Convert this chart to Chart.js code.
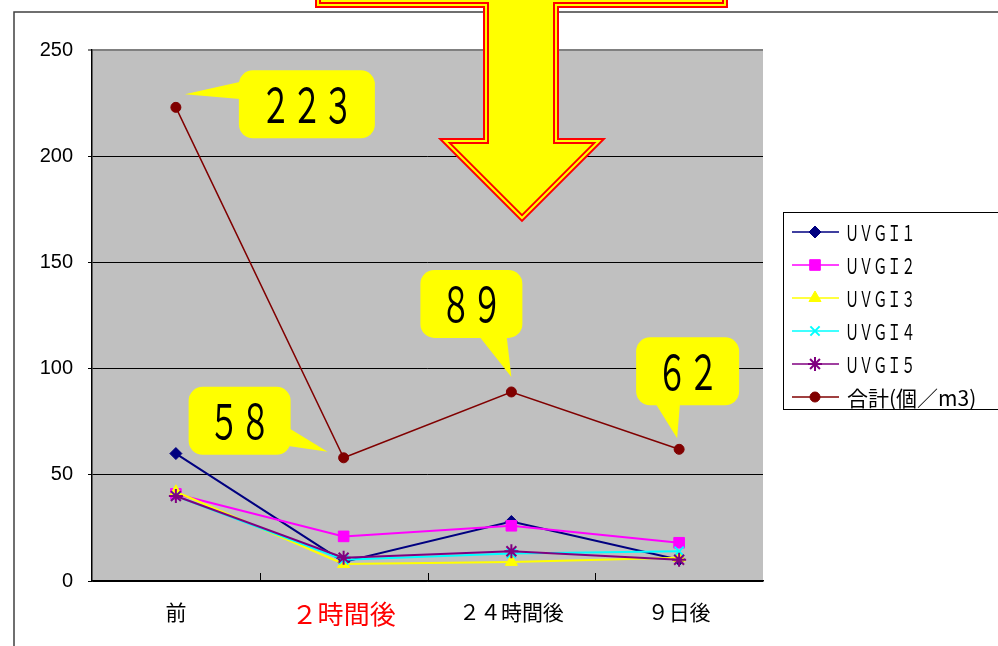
<!DOCTYPE html>
<html lang="ja">
<head>
<meta charset="utf-8">
<title>UVGI</title>
<script src="https://cdn.jsdelivr.net/npm/chart.js@4.4.1/dist/chart.umd.min.js"></script>
<style>
body{margin:0;background:#fff;}
#caja{position:relative;width:998px;height:646px;}
</style>
</head>
<body>
<div id="caja"><canvas id="grafico1"></canvas></div>
<script>
const categorias = ['前','２時間後','２４時間後','９日後'];
const nombres = ['ＵＶＧＩ１','ＵＶＧＩ２','ＵＶＧＩ３','ＵＶＧＩ４','ＵＶＧＩ５','合計(個／m3)'];
const uvgi1 = [60, 9, 28, 10];
const uvgi2 = [41, 21, 26, 18];
const uvgi3 = [42, 8, 9, 11];
const uvgi4 = [40, 10, 13, 14];
const uvgi5 = [40, 11, 14, 10];
const total = [223, 58, 89, 62];
const ticksY = [0, 50, 100, 150, 200, 250];
const globos = ['２２３','５８','８９','６２'];

const FUENTE_JP = '"Noto Sans CJK JP", "Noto Sans", sans-serif';

// forma de cada globo, relativa al punto del total
const formas = [
    {x0:63, x1:199, y0:-37, y1:31, b:[67,-26,67,-8], t:[9,-13]},
    {x0:-155, x1:-53, y0:-71, y1:-3, b:[-57,-31,-57,-12], t:[-16,-6]},
    {x0:-91, x1:11, y0:-122, y1:-54, b:[-34,-58,-5,-58], t:[0,-15]},
    {x0:-43, x1:60, y0:-112, y1:-44, b:[-25,-48,1,-48], t:[-2,-11]},
];

function textoEstrecho(ctx, txt, x, y, sx, align){
    ctx.save();
    ctx.translate(x, y);
    ctx.scale(sx, 1);
    ctx.textAlign = align;
    ctx.fillText(txt, 0, 0);
    ctx.restore();
}

function globo(ctx, px, py, f, txt){
    let x0 = px+f.x0, x1 = px+f.x1, y0 = py+f.y0, y1 = py+f.y1;
    ctx.fillStyle = '#ffff00';
    ctx.beginPath();
    ctx.roundRect(x0, y0, x1-x0, y1-y0, 14);
    ctx.fill();
    ctx.beginPath();
    ctx.moveTo(px+f.b[0], py+f.b[1]);
    ctx.lineTo(px+f.t[0], py+f.t[1]);
    ctx.lineTo(px+f.b[2], py+f.b[3]);
    ctx.closePath();
    ctx.fill();
    ctx.fillStyle = '#000';
    ctx.font = '48px ' + FUENTE_JP;
    ctx.textBaseline = 'middle';
    textoEstrecho(ctx, txt, (x0+x1)/2, (y0+y1)/2, 0.65, 'center');
}

const fondo = {
    id: 'fondo',
    beforeDraw(chart){
        const ctx = chart.ctx, a = chart.chartArea;
        ctx.save();
        ctx.fillStyle = '#fff';
        ctx.fillRect(0, 0, chart.width, chart.height);
        ctx.strokeStyle = '#404040';
        ctx.lineWidth = 1.5;
        ctx.beginPath();
        ctx.moveTo(14, chart.height);
        ctx.lineTo(14, 12);
        ctx.lineTo(chart.width, 12);
        ctx.stroke();
        ctx.fillStyle = '#c0c0c0';
        ctx.fillRect(a.left, a.top, a.right-a.left, a.bottom-a.top);
        ctx.restore();
    },
    afterDraw(chart){
        const ctx = chart.ctx, a = chart.chartArea;
        const xs = chart.scales.x, ys = chart.scales.y;
        ctx.save();
        // marcas del eje x
        ctx.strokeStyle = '#000';
        ctx.lineWidth = 1;
        ctx.beginPath();
        for(let i=0;i<categorias.length-1;i++){
            let x = Math.round((xs.getPixelForValue(i)+xs.getPixelForValue(i+1))/2)+0.5;
            ctx.moveTo(x, a.bottom);
            ctx.lineTo(x, a.bottom-8);
        }
        ctx.stroke();

        // globos
        total.forEach((v, i) => {
            globo(ctx, xs.getPixelForValue(i), ys.getPixelForValue(v), formas[i], globos[i]);
        });

        // leyenda
        ctx.strokeStyle = '#000';
        ctx.lineWidth = 1;
        ctx.strokeRect(783.5, 212.5, 240, 197);
        chart.data.datasets.forEach((ds, i) => {
            let y = 232 + i*33;
            ctx.strokeStyle = ds.borderColor;
            ctx.lineWidth = 1.5;
            ctx.beginPath();
            ctx.moveTo(792, y);
            ctx.lineTo(839, y);
            ctx.stroke();
            ctx.fillStyle = ds.pointBackgroundColor;
            ctx.strokeStyle = ds.pointBorderColor;
            ctx.lineWidth = ds.pointBorderWidth;
            Chart.helpers.drawPoint(ctx, {pointStyle: ds.pointStyle, radius: ds.pointRadius, rotation: 0, borderWidth: ds.pointBorderWidth}, 815, y);
            ctx.fillStyle = '#000';
            ctx.textBaseline = 'middle';
            if(i < 5){
                ctx.font = '22px ' + FUENTE_JP;
                textoEstrecho(ctx, ds.label, 845, y+1, 0.64, 'left');
            }else{
                ctx.font = '21px ' + FUENTE_JP;
                ctx.textAlign = 'left';
                ctx.fillText(ds.label, 847, y+1);
            }
        });

        // flecha
        ctx.beginPath();
        ctx.moveTo(318, -20);
        ctx.lineTo(318, 5);
        ctx.lineTo(486, 5);
        ctx.lineTo(486, 141);
        ctx.lineTo(445, 141);
        ctx.lineTo(522, 218);
        ctx.lineTo(599, 141);
        ctx.lineTo(556, 141);
        ctx.lineTo(556, 5);
        ctx.lineTo(725, 5);
        ctx.lineTo(725, -20);
        ctx.closePath();
        ctx.fillStyle = '#ffff00';
        ctx.fill();
        ctx.lineJoin = 'miter';
        ctx.strokeStyle = '#ff0000';
        ctx.lineWidth = 6;
        ctx.stroke();
        ctx.strokeStyle = '#ffff00';
        ctx.lineWidth = 2;
        ctx.stroke();
        ctx.restore();
    }
};

function serie(nombre, datos, color, estilo, radio, borde, orden){
    return {
        label: nombre,
        data: datos,
        borderColor: color,
        backgroundColor: color,
        borderWidth: 2,
        pointStyle: estilo,
        pointRadius: radio,
        pointBackgroundColor: color,
        pointBorderColor: color,
        pointBorderWidth: borde,
        tension: 0,
        order: orden,
    };
}

let canvasG1 = document.getElementById('grafico1').getContext('2d');
let datos = {
    labels: categorias,
    datasets: [
        serie(nombres[0], uvgi1, '#000080', 'rectRot', 6, 1, 5),
        serie(nombres[1], uvgi2, '#ff00ff', 'rect', 7.5, 1, 4),
        serie(nombres[2], uvgi3, '#ffff00', 'triangle', 7, 1, 3),
        serie(nombres[3], uvgi4, '#00ffff', 'crossRot', 6.5, 2, 2),
        serie(nombres[4], uvgi5, '#800080', 'star', 7, 2, 1),
        serie(nombres[5], total, '#800000', 'circle', 5, 1, 0),
    ]
};
datos.datasets[5].borderWidth = 1.5;

let opciones = {
    maintainAspectRatio: false,
    responsive: true,
    animation: false,
    layout: {padding: {top: 50, right: 235, left: 0, bottom: 0}},
    plugins: {legend: {display: false}, tooltip: {enabled: false}},
    scales: {
        x: {
            offset: true,
            afterFit(scale){ scale.height = 65; },
            grid: {display: false, drawTicks: false},
            border: {display: true, color: '#000', width: 1.5},
            ticks: {
                padding: 18,
                color: (c) => c.index === 1 ? '#ff0000' : '#000',
                font: (c) => ({family: FUENTE_JP, size: c.index === 1 ? 26 : 21}),
            }
        },
        y: {
            min: ticksY[0],
            max: ticksY[ticksY.length-1],
            afterFit(scale){ scale.width = 92; },
            afterBuildTicks(scale){ scale.ticks = ticksY.map(v => ({value: v})); },
            grid: {
                color: (c) => c.tick && c.tick.value === ticksY[ticksY.length-1] ? '#808080' : '#000',
                lineWidth: (c) => c.tick && c.tick.value === ticksY[ticksY.length-1] ? 2 : 1,
                tickLength: 4,
            },
            border: {display: true, color: '#000', width: 1.5},
            ticks: {
                padding: 15,
                color: '#000',
                font: {family: '"Liberation Sans", Arial, sans-serif', size: 20},
            }
        }
    }
};

let G1 = new Chart(canvasG1, {
    type: 'line',
    data: datos,
    options: opciones,
    plugins: [fondo],
});
</script>
</body>
</html>
